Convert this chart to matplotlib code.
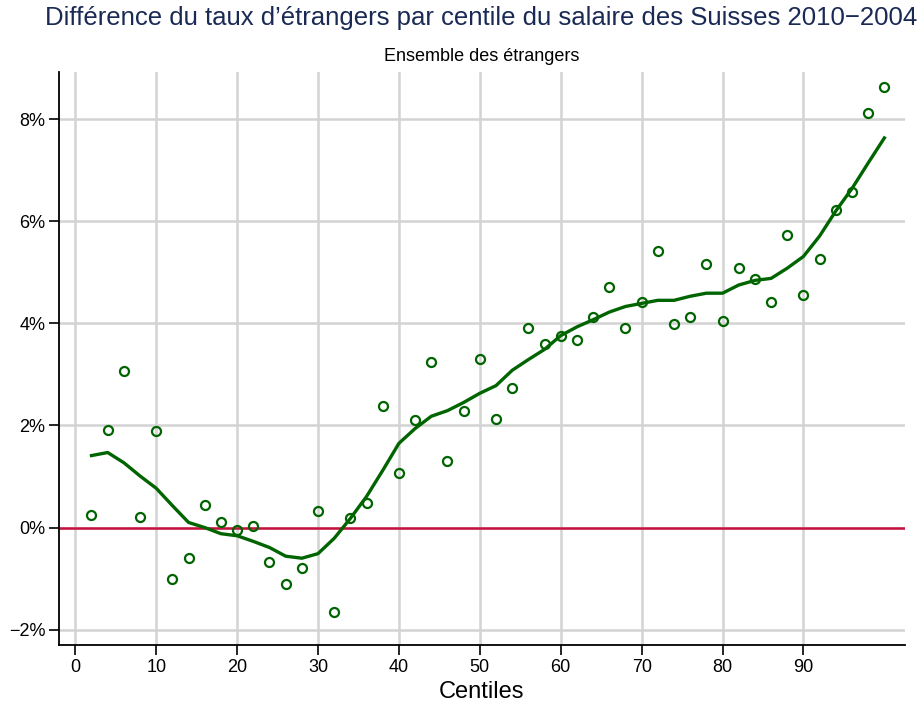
import matplotlib
matplotlib.use("Agg")
import matplotlib.pyplot as plt
from matplotlib.ticker import FuncFormatter

plt.rcParams['font.family'] = ['Liberation Sans', 'DejaVu Sans']

# centiles (every second one)
centiles = list(range(2, 101, 2))

# difference in share of foreigners, in %
points = [0.24, 1.92, 3.06, 0.20, 1.90, -1.00, -0.60, 0.44, 0.10, -0.05,
          0.03, -0.68, -1.10, -0.80, 0.32, -1.66, 0.18, 0.49, 2.39, 1.06,
          2.10, 3.25, 1.31, 2.29, 3.31, 2.12, 2.74, 3.90, 3.59, 3.76,
          3.67, 4.12, 4.72, 3.90, 4.41, 5.41, 3.98, 4.12, 5.16, 4.04,
          5.08, 4.86, 4.41, 5.72, 4.55, 5.25, 6.22, 6.57, 8.12, 8.63]

# smoothed curve
smooth = [1.41, 1.47, 1.27, 1.01, 0.77, 0.43, 0.10, 0.00, -0.12, -0.16,
          -0.27, -0.39, -0.56, -0.60, -0.51, -0.21, 0.18, 0.61, 1.12, 1.65,
          1.94, 2.18, 2.29, 2.45, 2.63, 2.78, 3.08, 3.29, 3.49, 3.76,
          3.93, 4.07, 4.22, 4.33, 4.39, 4.45, 4.45, 4.53, 4.59, 4.59,
          4.75, 4.84, 4.88, 5.08, 5.31, 5.71, 6.20, 6.64, 7.14, 7.63]

xticks = list(range(0, 100, 10))
yticks = [-2, 0, 2, 4, 6, 8]

green = '#006400'
fig = plt.figure(figsize=(9.24, 7.1), dpi=100)
ax = fig.add_axes([0.064, 0.0915, 0.915, 0.807])

ax.grid(True, color='#d3d3d3', linewidth=1.8)
ax.set_axisbelow(True)
ax.axhline(0, color='#c8103e', linewidth=1.8, zorder=2)
ax.plot(centiles, smooth, color=green, linewidth=2.4, zorder=3)
ax.plot(centiles, points, linestyle='none', marker='o', markersize=6.5,
        markerfacecolor='none', markeredgecolor=green, markeredgewidth=1.6, zorder=4)

ax.set_xlim(-2, 102.5)
ax.set_ylim(-2.3, 8.92)
ax.set_xticks(xticks)
ax.set_yticks(yticks)
ax.yaxis.set_major_formatter(FuncFormatter(lambda v, p: f"{v:.0f}%".replace('-', '\u2212')))
ax.tick_params(direction='out', length=7, width=1.2, labelsize=13, pad=3)
for s in ['top', 'right']:
    ax.spines[s].set_visible(False)
for s in ['left', 'bottom']:
    ax.spines[s].set_linewidth(1.3)

ax.set_xlabel('Centiles', fontsize=17, labelpad=4)
fig.text(0.521, 0.975, 'Différence du taux d\u2019étrangers par centile du salaire des Suisses 2010\u22122004',
         ha='center', va='center', fontsize=18.5, color='#1a2a55')
fig.text(0.521, 0.920, 'Ensemble des étrangers', ha='center', va='center', fontsize=13)

fig.savefig('out.png', dpi=100)
